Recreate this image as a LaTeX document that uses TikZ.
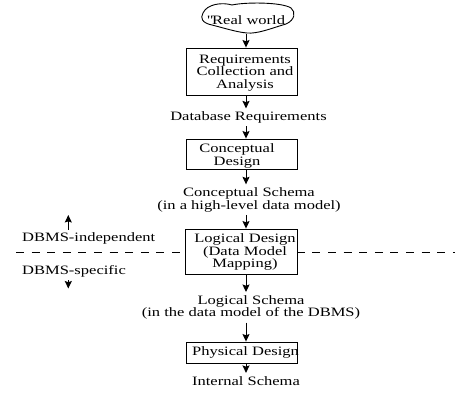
\documentclass[tikz,border=0pt]{standalone}
\usepackage{fontspec}
\setmainfont{Liberation Serif}[FakeStretch=1.29]
\usetikzlibrary{arrows.meta}
\newcommand{\dfont}{\fontsize{12.8}{12.6}\selectfont}
\begin{document}
\begin{tikzpicture}[x=1pt,y=-1pt,
  txt/.style={inner xsep=0pt, inner ysep=3pt, align=center, font=\dfont, anchor=base},
  box/.style={draw, line width=0.9pt, fill=white, inner sep=0pt},
  flow/.style={line width=1pt, -{Stealth[length=7.5pt,width=7pt,inset=1.2pt]}},
  sep/.style={line width=0.9pt, dash pattern=on 8pt off 7.6pt}]
\useasboundingbox (0,0) rectangle (455,392);

% flow axis
\coordinate (axis) at (246,0);

% "Real world" cloud
\draw[line width=0.9pt] (203,13) .. controls (207,4) and (222,2) .. (232,5)
  .. controls (245,2) and (282,2) .. (291,8)
  .. controls (296,12) and (295,20) .. (286,24)
  .. controls (272,28) and (258,34) .. (247,33)
  .. controls (236,32) and (224,28) .. (212,25)
  .. controls (202,23) and (200,18) .. (203,13) -- cycle;
\node[txt] (world) at (246,24.5) {\textquotedbl Real world};
\coordinate (cloudbot) at (246,33.5);

% DBMS-independent / DBMS-specific boundary
\draw[sep] (16,252.5) -- (455,252.5);

% design steps (the base anchor of a multi-line node is its last line)
\node[box, minimum width=111pt, minimum height=47pt] (req) at (241.5,71.5) {};
\node[txt] (reqtxt) at (245,88.5) {Requirements\\Collection and\\Analysis};

\node[txt] (dbreq) at (248.5,120.5) {Database Requirements};

\node[box, minimum width=111pt, minimum height=30pt] (concept) at (241.5,154) {};
\node[txt] (concepttxt) at (237,165) {Conceptual\\Design};

\node[txt] (csch) at (249,209) {Conceptual Schema\\(in a high-level data model)};

\node[box, minimum width=112pt, minimum height=45pt] (logical) at (241,251.5) {};
\node[txt] (logicaltxt) at (245,267.7) {Logical Design\\(Data Model\\Mapping)};

\node[txt] (lsch) at (251,316.7) {Logical Schema\\(in the data model of the DBMS)};

\node[box, minimum width=111pt, minimum height=21pt] (physical) at (241.5,352.5) {};
\node[txt] (physicaltxt) at (245.5,355) {Physical Design};

\node[txt] (isch) at (246,385) {Internal Schema};

% side labels
\node[txt, anchor=base west] (indep) at (22,241.7) {DBMS-independent};
\node[txt, anchor=base west] (spec) at (22,274.5) {DBMS-specific};
\coordinate (upend) at (68.3,215);
\coordinate (downend) at (68.3,288.5);

% connectors
\draw[flow] (cloudbot) -- (req.north -| axis);
\draw[flow] (req.south -| axis) -- (dbreq.north -| axis);
\draw[flow] (dbreq.south -| axis) -- (concept.north -| axis);
\draw[flow] (concept.south -| axis) -- (csch.north -| axis);
\draw[flow] (csch.south -| axis) -- (logical.north -| axis);
\draw[flow] (logical.south -| axis) -- (lsch.north -| axis);
\draw[flow] (lsch.south -| axis) -- (physical.north -| axis);
\draw[flow] (physical.south -| axis) -- (isch.north -| axis);
\draw[flow] (indep.north -| upend) -- (upend);
\draw[flow] (spec.south -| downend) -- (downend);
\end{tikzpicture}
\end{document}
